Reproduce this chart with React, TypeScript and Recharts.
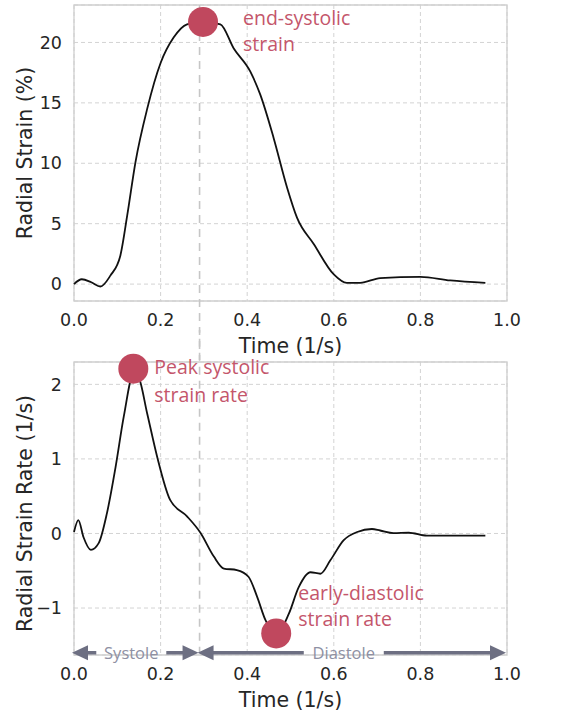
import React from "react";
import {
  LineChart,
  Line,
  XAxis,
  YAxis,
  CartesianGrid,
  ReferenceLine,
  ReferenceDot,
  ReferenceArea,
} from "recharts";

// Radial strain (%) over one cardiac cycle
const strainTime = [0, 0.018, 0.04, 0.061, 0.084, 0.107, 0.123, 0.142, 0.169, 0.2, 0.23, 0.261, 0.298, 0.338, 0.369, 0.407, 0.43, 0.461, 0.492, 0.515, 0.554, 0.6, 0.63, 0.661, 0.707, 0.8, 0.869, 0.95];
const strainValue = [0.0, 0.4, 0.15, -0.2, 0.7, 2.35, 5.7, 10.1, 14.5, 18.3, 20.4, 21.5, 21.7, 21.5, 19.5, 17.6, 15.7, 12.1, 8.0, 5.5, 3.3, 0.8, 0.1, 0.1, 0.5, 0.6, 0.3, 0.1];

// Radial strain rate (1/s) over one cardiac cycle
const rateTime = [0, 0.01, 0.022, 0.039, 0.057, 0.076, 0.096, 0.115, 0.138, 0.149, 0.169, 0.192, 0.222, 0.261, 0.292, 0.323, 0.346, 0.376, 0.403, 0.423, 0.442, 0.467, 0.496, 0.519, 0.546, 0.569, 0.592, 0.623, 0.654, 0.688, 0.707, 0.738, 0.773, 0.815, 0.95];
const rateValue = [0.02, 0.18, -0.05, -0.22, -0.13, 0.27, 0.89, 1.57, 2.15, 2.1, 1.61, 1.03, 0.45, 0.23, 0.01, -0.31, -0.47, -0.49, -0.58, -0.85, -1.16, -1.35, -1.08, -0.72, -0.52, -0.54, -0.36, -0.09, 0.02, 0.06, 0.04, 0.005, 0.01, -0.03, -0.03];

const timeTicks = [0, 0.2, 0.4, 0.6, 0.8, 1.0];
const strainTicks = [0, 5, 10, 15, 20];
const rateTicks = [-1, 0, 1, 2];

const endSystoleTime = 0.29;

// Highlighted events
const endSystolicStrain = { t: 0.298, v: 21.7, lines: ["end-systolic", "strain"] };
const peakSystolicRate = { t: 0.137, v: 2.21, lines: ["Peak systolic", "strain rate"] };
const earlyDiastolicRate = { t: 0.467, v: -1.34, lines: ["early-diastolic", "strain rate"] };

const phases = [
  { name: "Systole", from: 0, to: endSystoleTime },
  { name: "Diastole", from: endSystoleTime, to: 1.0 },
];

const strainRows = strainTime.map((t, i) => ({ t, v: strainValue[i] }));
const rateRows = rateTime.map((t, i) => ({ t, v: rateValue[i] }));

const AXIS_FONT = "'DejaVu Sans', sans-serif";
const NOTE_FONT = "'Open Sans', Lato, sans-serif";
const DOT = "#c0485e";
const NOTE = "#c4566b";
const ARROW = "#6d6f82";
const ARROW_TEXT = "#8e90a3";
const GRID = "#d3d3d3";
const FRAME = "#cfcfcf";

const tickStyle = { fontFamily: AXIS_FONT, fontSize: 17.5, fill: "#262626" };
const titleStyle = { fontFamily: AXIS_FONT, fontSize: 20.5, fill: "#262626" };

const minus = (v: number) => (v < 0 ? "\u2212" + Math.abs(v) : String(v));

function annotatedDot(lines: string[], dx: number, dy1: number, lineGap: number) {
  return (p: any) => (
    <g>
      <circle cx={p.cx} cy={p.cy} r={15} fill={DOT} />
      <text
        x={p.cx + dx}
        y={p.cy + dy1}
        fill={NOTE}
        fontFamily={NOTE_FONT}
        fontSize={19.5}
        dominantBaseline="central"
      >
        <tspan x={p.cx + dx}>{lines[0]}</tspan>
        <tspan x={p.cx + dx} dy={lineGap}>
          {lines[1]}
        </tspan>
      </text>
    </g>
  );
}

function phaseArrow(label: string, textWidth: number, textShift: number) {
  return (p: any) => {
    const x1 = p.x1 - 2;
    const x2 = p.x2 - 1;
    const y = p.y1;
    const head = 16;
    const half = 7.5;
    const mid = (x1 + x2) / 2 + textShift;
    const gap = textWidth / 2 + 6;
    return (
      <g>
        <line x1={x1 + head - 1} y1={y} x2={mid - gap} y2={y} stroke={ARROW} strokeWidth={3.5} />
        <line x1={mid + gap} y1={y} x2={x2 - head + 1} y2={y} stroke={ARROW} strokeWidth={3.5} />
        <polygon points={`${x1},${y} ${x1 + head},${y - half} ${x1 + head},${y + half}`} fill={ARROW} />
        <polygon points={`${x2},${y} ${x2 - head},${y - half} ${x2 - head},${y + half}`} fill={ARROW} />
        <text
          x={mid}
          y={y}
          textAnchor="middle"
          dominantBaseline="central"
          fill={ARROW_TEXT}
          fontFamily={NOTE_FONT}
          fontSize={16.5}
        >
          {label}
        </text>
      </g>
    );
  };
}

const STRAIN_DOMAIN: [number, number] = [-1.4, 23.1];
const RATE_DOMAIN: [number, number] = [-1.63, 2.3];

export default function App() {
  return (
    <div style={{ position: "absolute", left: 0, top: 0, width: 563, height: 715, background: "#fff" }}>
      <div style={{ position: "absolute", left: 0, top: 0 }}>
        <LineChart width={563} height={360} data={strainRows} margin={{ top: 5, right: 56, bottom: 0, left: 0 }}>
          <CartesianGrid stroke={GRID} strokeDasharray="4 3" strokeWidth={1} />
          <ReferenceArea x1={0} x2={1} y1={STRAIN_DOMAIN[0]} y2={STRAIN_DOMAIN[1]} fill="none" stroke={FRAME} strokeWidth={1.3} ifOverflow="visible" />
          <XAxis
            dataKey="t"
            type="number"
            domain={[0, 1]}
            ticks={timeTicks}
            tickFormatter={(v: number) => v.toFixed(1)}
            axisLine={false}
            tickLine={false}
            tickSize={0}
            tickMargin={13}
            height={59}
            tick={tickStyle}
            label={{ value: "Time (1/s)", position: "insideBottom", offset: 7, style: titleStyle }}
          />
          <YAxis
            type="number"
            domain={STRAIN_DOMAIN}
            ticks={strainTicks}
            axisLine={false}
            tickLine={false}
            tickSize={0}
            tickMargin={12}
            width={74}
            tick={tickStyle}
            label={{ value: "Radial Strain (%)", angle: -90, position: "center", dx: -12, style: { ...titleStyle, textAnchor: "middle" } }}
          />
          <ReferenceLine
            segment={[{ x: endSystoleTime, y: STRAIN_DOMAIN[1] }, { x: endSystoleTime, y: -8 }]}
            stroke="#c6c6c6"
            strokeWidth={1.6}
            strokeDasharray="8 6"
            ifOverflow="visible"
          />
          <Line dataKey="v" type="monotone" stroke="#111" strokeWidth={1.8} dot={false} isAnimationActive={false} />
          <ReferenceDot
            x={endSystolicStrain.t}
            y={endSystolicStrain.v}
            r={15}
            ifOverflow="visible"
            shape={annotatedDot(endSystolicStrain.lines, 40, -5, 26)}
          />
        </LineChart>
      </div>
      <div style={{ position: "absolute", left: 0, top: 330 }}>
        <LineChart width={563} height={385} data={rateRows} margin={{ top: 32, right: 56, bottom: 0, left: 0 }}>
          <CartesianGrid stroke={GRID} strokeDasharray="4 3" strokeWidth={1} />
          <ReferenceArea x1={0} x2={1} y1={RATE_DOMAIN[0]} y2={RATE_DOMAIN[1]} fill="none" stroke={FRAME} strokeWidth={1.3} ifOverflow="visible" />
          <XAxis
            dataKey="t"
            type="number"
            domain={[0, 1]}
            ticks={timeTicks}
            tickFormatter={(v: number) => v.toFixed(1)}
            axisLine={false}
            tickLine={false}
            tickSize={0}
            tickMargin={13}
            height={60}
            tick={tickStyle}
            label={{ value: "Time (1/s)", position: "insideBottom", offset: 8, style: titleStyle }}
          />
          <YAxis
            type="number"
            domain={RATE_DOMAIN}
            ticks={rateTicks}
            tickFormatter={minus}
            axisLine={false}
            tickLine={false}
            tickSize={0}
            tickMargin={12}
            width={74}
            tick={tickStyle}
            label={{ value: "Radial Strain Rate (1/s)", angle: -90, position: "center", dx: -12, dy: 5, style: { ...titleStyle, textAnchor: "middle" } }}
          />
          <ReferenceLine
            segment={[{ x: endSystoleTime, y: 2.8 }, { x: endSystoleTime, y: -1.6 }]}
            stroke="#c6c6c6"
            strokeWidth={1.6}
            strokeDasharray="8 6"
            ifOverflow="visible"
          />
          {phases.map((ph, i) => (
            <ReferenceLine
              key={ph.name}
              segment={[{ x: ph.from, y: -1.6 }, { x: ph.to, y: -1.6 }]}
              ifOverflow="visible"
              shape={phaseArrow(ph.name, i === 0 ? 58 : 68, i === 0 ? -4 : -8)}
            />
          ))}
          <Line dataKey="v" type="monotone" stroke="#111" strokeWidth={1.8} dot={false} isAnimationActive={false} />
          <ReferenceDot
            x={peakSystolicRate.t}
            y={peakSystolicRate.v}
            r={15}
            ifOverflow="visible"
            shape={annotatedDot(peakSystolicRate.lines, 21, -3, 28)}
          />
          <ReferenceDot
            x={earlyDiastolicRate.t}
            y={earlyDiastolicRate.v}
            r={15}
            ifOverflow="visible"
            shape={annotatedDot(earlyDiastolicRate.lines, 22, -41, 26)}
          />
        </LineChart>
      </div>
    </div>
  );
}
